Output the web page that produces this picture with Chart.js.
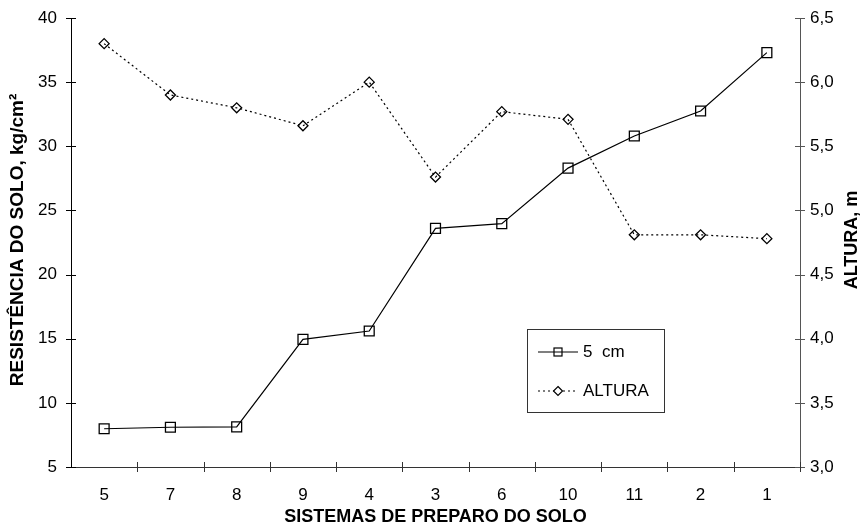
<!DOCTYPE html>
<html>
<head>
<meta charset="utf-8">
<script src="https://cdn.jsdelivr.net/npm/chart.js@4.4.0/dist/chart.umd.min.js"></script>
<style>
  html, body { margin: 0; padding: 0; background: #fff; }
  #grafico { display: block; }
</style>
</head>
<body>
<canvas id="grafico" width="866" height="530"></canvas>
<script>
// dados
const sistemas = ['5', '7', '8', '9', '4', '3', '6', '10', '11', '2', '1'];
const resistencia5cm = [7.98, 8.1, 8.13, 14.95, 15.6, 23.6, 23.97, 28.3, 30.8, 32.75, 37.3];
const altura = [6.30, 5.90, 5.80, 5.66, 6.00, 5.26, 5.77, 5.71, 4.81, 4.81, 4.78];

const rotuloResistencia = 'RESISTÊNCIA DO SOLO, kg/cm²';
const rotuloAltura = 'ALTURA, m';
const rotuloSistemas = 'SISTEMAS DE PREPARO DO SOLO';
const legendaSerie1 = '5  cm';
const legendaSerie2 = 'ALTURA';

const fonte = "'Liberation Sans', Arial, sans-serif";

// marcas dos eixos cruzando a linha, títulos e legenda
const extras = {
    id: 'extras',
    afterDraw(chart) {
        const ctx = chart.ctx;
        const area = chart.chartArea;
        const x = chart.scales.x;
        const y = chart.scales.y;
        const y2 = chart.scales.y2;
        ctx.save();
        ctx.lineWidth = 1;

        ctx.strokeStyle = '#000';
        ctx.beginPath();
        y.ticks.forEach(function (t, i) {
            const py = Math.round(y.getPixelForTick(i)) + 0.5;
            ctx.moveTo(area.left - 5, py);
            ctx.lineTo(area.left + 5, py);
        });
        ctx.stroke();

        ctx.strokeStyle = '#555';
        ctx.beginPath();
        y2.ticks.forEach(function (t, i) {
            const py = Math.round(y2.getPixelForTick(i)) + 0.5;
            ctx.moveTo(area.right - 5, py);
            ctx.lineTo(area.right + 5, py);
        });
        ctx.stroke();

        ctx.strokeStyle = '#333';
        ctx.beginPath();
        for (let i = 0; i < sistemas.length; i++) {
            const px = Math.round(x.getPixelForValue(i + 0.5)) + 0.5;
            ctx.moveTo(px, area.bottom - 5);
            ctx.lineTo(px, area.bottom + 5);
        }
        ctx.stroke();

        // títulos dos eixos
        ctx.fillStyle = '#000';
        ctx.font = 'bold 18px ' + fonte;
        ctx.textAlign = 'center';
        ctx.textBaseline = 'middle';
        ctx.fillText(rotuloSistemas, (area.left + area.right) / 2, 517);

        ctx.save();
        ctx.font = 'bold 19px ' + fonte;
        ctx.translate(18, 240);
        ctx.rotate(-Math.PI / 2);
        ctx.fillText(rotuloResistencia, 0, 0);
        ctx.restore();

        ctx.save();
        ctx.font = 'bold 18px ' + fonte;
        ctx.translate(852, 240);
        ctx.rotate(-Math.PI / 2);
        ctx.fillText(rotuloAltura, 0, 0);
        ctx.restore();

        // legenda
        ctx.strokeStyle = '#333';
        ctx.lineWidth = 1;
        ctx.strokeRect(527.5, 329.5, 137, 83);

        ctx.strokeStyle = '#000';
        ctx.lineWidth = 1.2;
        ctx.beginPath();
        ctx.moveTo(538, 352);
        ctx.lineTo(578, 352);
        ctx.stroke();
        ctx.strokeRect(554, 348, 8, 8);

        ctx.setLineDash([2, 3]);
        ctx.beginPath();
        ctx.moveTo(538, 391);
        ctx.lineTo(578, 391);
        ctx.stroke();
        ctx.setLineDash([]);
        ctx.fillStyle = '#fff';
        ctx.beginPath();
        ctx.moveTo(558, 386.5);
        ctx.lineTo(562.5, 391);
        ctx.lineTo(558, 395.5);
        ctx.lineTo(553.5, 391);
        ctx.closePath();
        ctx.fill();
        ctx.stroke();

        ctx.fillStyle = '#000';
        ctx.font = '17px ' + fonte;
        ctx.textAlign = 'left';
        ctx.fillText(legendaSerie1, 583, 352);
        ctx.fillText(legendaSerie2, 583, 391);
        ctx.restore();
    }
};

const config = {
    type: 'line',
    data: {
        labels: sistemas,
        datasets: [{
            label: legendaSerie1,
            data: resistencia5cm,
            yAxisID: 'y',
            borderColor: '#000',
            borderWidth: 1.2,
            pointStyle: 'rect',
            pointRadius: 7,
            pointBorderWidth: 1.3,
            pointBorderColor: '#000',
            pointBackgroundColor: 'rgba(0,0,0,0)',
            tension: 0
        }, {
            label: legendaSerie2,
            data: altura,
            yAxisID: 'y2',
            borderColor: '#000',
            borderWidth: 1.2,
            borderDash: [2, 3],
            pointStyle: 'rectRot',
            pointRadius: 5,
            pointBorderWidth: 1.3,
            pointBorderColor: '#000',
            pointBackgroundColor: 'rgba(0,0,0,0)',
            tension: 0
        }]
    },
    options: {
        responsive: false,
        animation: false,
        layout: { padding: { top: 18, left: 0, right: 0, bottom: 0 } },
        plugins: {
            legend: { display: false },
            tooltip: { enabled: false }
        },
        scales: {
            x: {
                offset: true,
                grid: { display: false, drawTicks: false },
                border: { display: true, color: '#333', width: 1 },
                ticks: { color: '#000', padding: 18, font: { family: fonte, size: 17 } },
                afterFit: function (s) { s.height = 63; s.paddingLeft = 0; s.paddingRight = 0; }
            },
            y: {
                position: 'left',
                min: 5,
                max: 40,
                grid: { display: false, drawTicks: false },
                border: { display: true, color: '#000', width: 1 },
                ticks: { stepSize: 5, color: '#000', padding: 14, font: { family: fonte, size: 17 } },
                afterFit: function (s) { s.width = 71; s.paddingTop = 0; s.paddingBottom = 0; }
            },
            y2: {
                position: 'right',
                min: 3,
                max: 6.5,
                grid: { display: false, drawTicks: false },
                border: { display: true, color: '#555', width: 1 },
                ticks: {
                    stepSize: 0.5,
                    color: '#000',
                    padding: 10,
                    font: { family: fonte, size: 17 },
                    callback: function (v) { return v.toFixed(1).replace('.', ','); }
                },
                afterFit: function (s) { s.width = 66; s.paddingTop = 0; s.paddingBottom = 0; }
            }
        }
    },
    plugins: [extras]
};

let grafico = new Chart(document.getElementById('grafico'), config);
</script>
</body>
</html>
